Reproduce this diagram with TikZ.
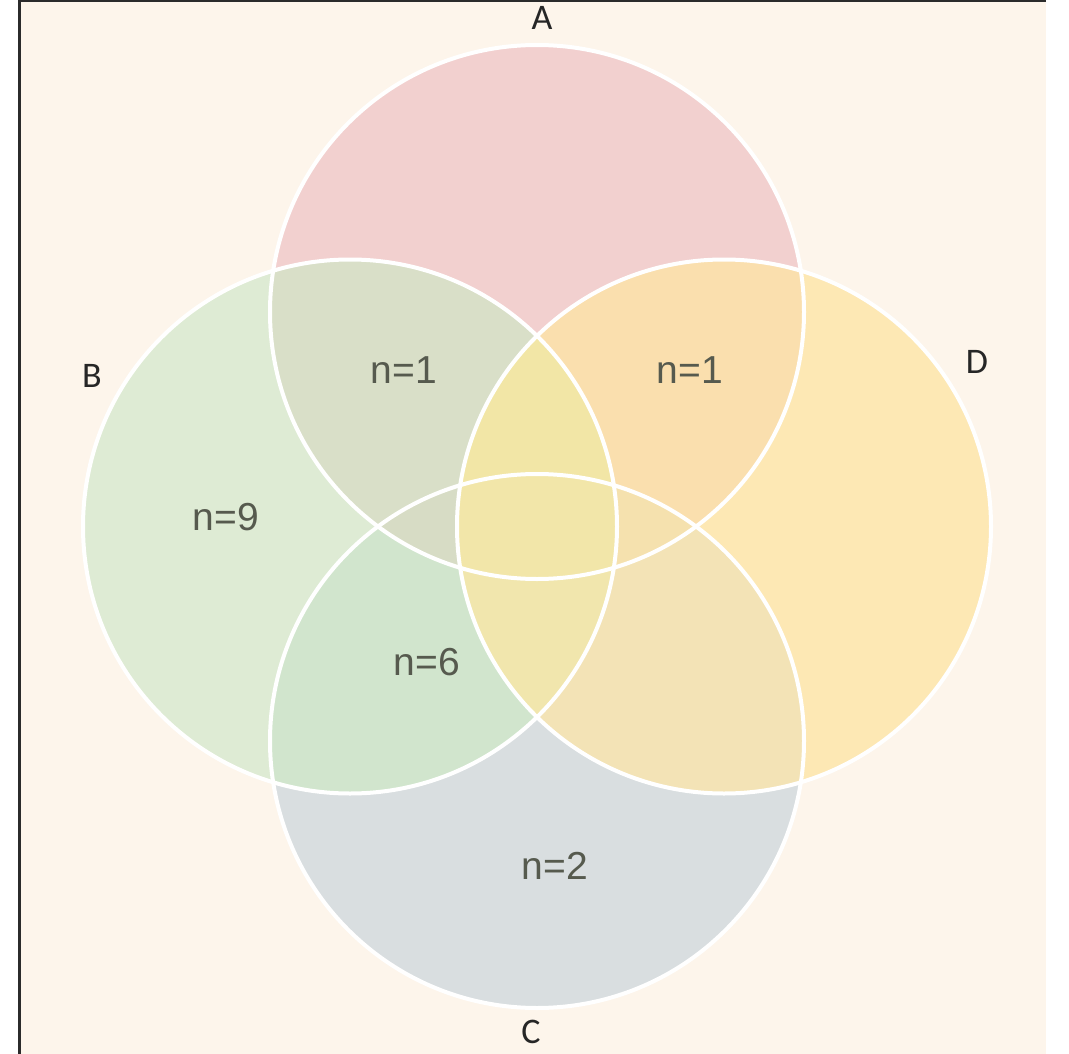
\documentclass[tikz,border=0pt]{standalone}
\usepackage{fontspec}
\setmainfont{Liberation Sans}
\newfontfamily\letterfont{Carlito}
\definecolor{bgcream}{HTML}{FDF5EB}
\definecolor{frameline}{HTML}{2B2B2B}
\definecolor{colA}{HTML}{F2D0CF}
\definecolor{colB}{HTML}{DEEBD4}
\definecolor{colC}{HTML}{D9DEE0}
\definecolor{colD}{HTML}{FDE8B4}
\definecolor{colAB}{HTML}{D9DFC8}
\definecolor{colAD}{HTML}{FADFAE}
\definecolor{colBC}{HTML}{D1E5CD}
\definecolor{colCD}{HTML}{F3E3B6}
\definecolor{colAC}{HTML}{F2E4AC}
\definecolor{colBD}{HTML}{F1E5A8}
\definecolor{colABC}{HTML}{D7DCC5}
\definecolor{colABD}{HTML}{F2E6A6}
\definecolor{colACD}{HTML}{F5E1AE}
\definecolor{colBCD}{HTML}{F1E6AD}
\definecolor{colABCD}{HTML}{F2E6A9}
\definecolor{numtext}{HTML}{565A4E}
\definecolor{lettertext}{HTML}{262626}
\begin{document}
\begin{tikzpicture}[x=1pt,y=-1pt,
  outline/.style={draw=white,line width=4pt},
  setlabel/.style={text=lettertext,font=\letterfont\fontsize{36}{40}\selectfont,inner sep=0pt},
  countlabel/.style={text=numtext,font=\fontsize{39}{42}\selectfont,inner sep=0pt}]
\def\rr{267}
% background and frame
\fill[white] (0,0) rectangle (1069,1054);
\fill[bgcream] (19,0) rectangle (1046,1054);
\fill[frameline] (18,0) rectangle (21,1054);
\fill[frameline] (18,0) rectangle (1046,2);
\useasboundingbox (0,0) rectangle (1069,1054);
% centres
\coordinate (cA) at (537,312);
\coordinate (cC) at (537,741);
\coordinate (cB) at (350,526.5);
\coordinate (cD) at (724,526.5);
% single sets
\fill[colA] (cA) circle[radius=\rr];
\fill[colB] (cB) circle[radius=\rr];
\fill[colC] (cC) circle[radius=\rr];
\fill[colD] (cD) circle[radius=\rr];
% pairs
\begin{scope}\clip (cA) circle[radius=\rr]; \fill[colAB] (cB) circle[radius=\rr];\end{scope}
\begin{scope}\clip (cA) circle[radius=\rr]; \fill[colAD] (cD) circle[radius=\rr];\end{scope}
\begin{scope}\clip (cB) circle[radius=\rr]; \fill[colBC] (cC) circle[radius=\rr];\end{scope}
\begin{scope}\clip (cC) circle[radius=\rr]; \fill[colCD] (cD) circle[radius=\rr];\end{scope}
\begin{scope}\clip (cA) circle[radius=\rr]; \fill[colAC] (cC) circle[radius=\rr];\end{scope}
\begin{scope}\clip (cB) circle[radius=\rr]; \fill[colBD] (cD) circle[radius=\rr];\end{scope}
% triples
\begin{scope}\clip (cA) circle[radius=\rr]; \clip (cB) circle[radius=\rr]; \fill[colABC] (cC) circle[radius=\rr];\end{scope}
\begin{scope}\clip (cA) circle[radius=\rr]; \clip (cB) circle[radius=\rr]; \fill[colABD] (cD) circle[radius=\rr];\end{scope}
\begin{scope}\clip (cA) circle[radius=\rr]; \clip (cC) circle[radius=\rr]; \fill[colACD] (cD) circle[radius=\rr];\end{scope}
\begin{scope}\clip (cB) circle[radius=\rr]; \clip (cC) circle[radius=\rr]; \fill[colBCD] (cD) circle[radius=\rr];\end{scope}
% quadruple
\begin{scope}\clip (cA) circle[radius=\rr]; \clip (cB) circle[radius=\rr]; \clip (cC) circle[radius=\rr]; \fill[colABCD] (cD) circle[radius=\rr];\end{scope}
% outlines
\draw[outline] (cA) circle[radius=\rr];
\draw[outline] (cB) circle[radius=\rr];
\draw[outline] (cC) circle[radius=\rr];
\draw[outline] (cD) circle[radius=\rr];
% set labels
\node[setlabel] (labA) at (542,18) {A};
\node[setlabel] (labB) at (92,376) {B};
\node[setlabel] (labC) at (531,1032) {C};
\node[setlabel] (labD) at (977,362) {D};
% counts
\node[countlabel] (nAB) at (404,370) {n=1};
\node[countlabel] (nAD) at (690,370) {n=1};
\node[countlabel] (nB) at (226,517) {n=9};
\node[countlabel] (nBC) at (427,662) {n=6};
\node[countlabel] (nC) at (555,866) {n=2};
\end{tikzpicture}
\end{document}
